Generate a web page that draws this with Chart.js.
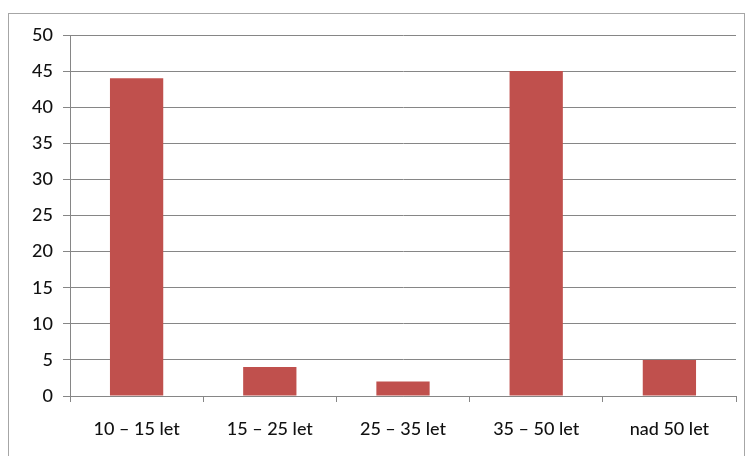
<!DOCTYPE html>
<html>
<head>
<meta charset="utf-8">
<script src="https://cdn.jsdelivr.net/npm/chart.js@4"></script>
<style>
  html, body { margin: 0; padding: 0; background: #fff; }
  #wrap { width: 747px; height: 456px; }
</style>
</head>
<body>
<div id="wrap"><canvas id="myChart" width="747" height="456"></canvas></div>
<script>
const kategorie = ['10 – 15 let', '15 – 25 let', '25 – 35 let', '35 – 50 let', 'nad 50 let'];
const pocty = [44, 4, 2, 45, 5];
const osaMax = 50;
const osaKrok = 5;

// ramecek kolem celeho grafu
const ramecek = {
    id: 'ramecek',
    beforeDraw(chart) {
        const ctx = chart.ctx;
        ctx.save();
        ctx.strokeStyle = '#a6a6a6';
        ctx.lineWidth = 1;
        ctx.strokeRect(8.5, 13.5, 736, 460);
        ctx.restore();
    }
};

const pismo = { family: 'Lato', size: 18, weight: '500' };

const ctx = document.getElementById('myChart');
const myChart = new Chart(ctx, {
    type: 'bar',
    data: {
        labels: kategorie,
        datasets: [{
            data: pocty,
            backgroundColor: '#c0504d',
            borderWidth: 0,
            categoryPercentage: 1,
            barPercentage: 0.4
        }]
    },
    options: {
        responsive: false,
        animation: false,
        layout: { padding: { left: 0, top: 35, right: 11, bottom: 0 } },
        plugins: {
            legend: { display: false },
            tooltip: { enabled: false }
        },
        scales: {
            x: {
                afterFit: (s) => { s.height = 60; },
                border: { color: '#868686', width: 1 },
                grid: {
                    offset: true,
                    drawOnChartArea: false,
                    drawTicks: true,
                    tickLength: 6,
                    color: '#868686'
                },
                ticks: {
                    color: '#111',
                    padding: 16,
                    font: pismo
                }
            },
            y: {
                min: 0,
                max: osaMax,
                afterFit: (s) => { s.width = 70; },
                border: { color: '#868686', width: 1 },
                grid: {
                    color: '#868686',
                    tickLength: 7
                },
                ticks: {
                    stepSize: osaKrok,
                    color: '#111',
                    padding: 10,
                    font: pismo
                }
            }
        }
    },
    plugins: [ramecek]
});
</script>
</body>
</html>
